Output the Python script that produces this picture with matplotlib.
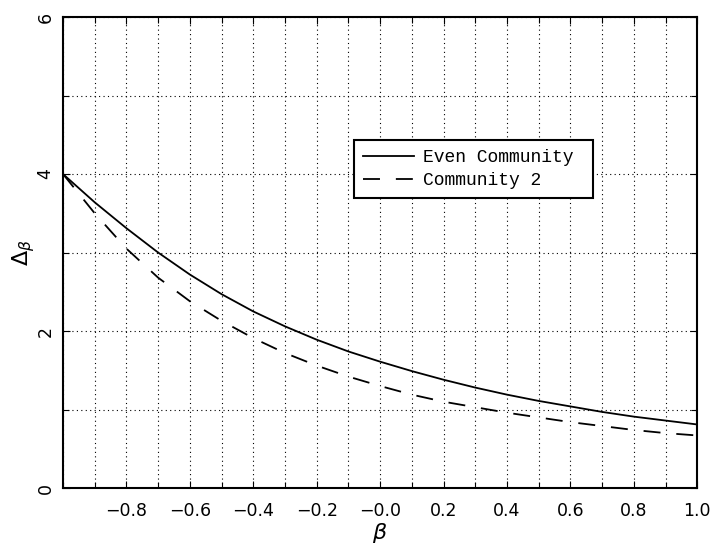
import matplotlib
matplotlib.use("Agg")
import matplotlib.pyplot as plt
import numpy as np

beta = [-1.0, -0.9, -0.8, -0.7, -0.6, -0.5, -0.4, -0.3, -0.2, -0.1, 0.0,
        0.1, 0.2, 0.3, 0.4, 0.5, 0.6, 0.7, 0.8, 0.9, 1.0]
even_community = [4.0, 3.64, 3.31, 3.00, 2.72, 2.47, 2.25, 2.06, 1.89, 1.74, 1.61,
                  1.49, 1.38, 1.28, 1.19, 1.11, 1.04, 0.97, 0.91, 0.86, 0.81]
community_2 = [4.0, 3.50, 3.05, 2.68, 2.38, 2.13, 1.91, 1.72, 1.56, 1.42, 1.30,
               1.19, 1.10, 1.03, 0.96, 0.90, 0.84, 0.79, 0.74, 0.70, 0.67]
xtick_vals = [-0.8, -0.6, -0.4, -0.2, 0.0, 0.2, 0.4, 0.6, 0.8, 1.0]
xtick_labels = ['\u22120.8', '\u22120.6', '\u22120.4', '\u22120.2', '\u22120.0',
                '0.2', '0.4', '0.6', '0.8', '1.0']
ytick_vals = [0, 2, 4, 6]
ytick_labels = ['0', '2', '4', '6']

fig = plt.figure(figsize=(7.24, 5.49), dpi=100)
ax = fig.add_axes([0.087, 0.111, 0.876, 0.858])

ax.plot(beta, even_community, color='black', lw=1.3, label='Even Community ')
ax.plot(beta, community_2, color='black', lw=1.3, dashes=(9.4, 8.8), label='Community 2')

ax.set_xlim(-1, 1)
ax.set_ylim(0, 6)
ax.set_xticks(np.arange(-1.0, 1.01, 0.1), minor=True)
ax.set_xticks(xtick_vals)
ax.set_xticklabels(xtick_labels, fontsize=12.5, family='DejaVu Sans')
ax.set_yticks(np.arange(0, 6.01, 1), minor=True)
ax.set_yticks(ytick_vals)
ax.set_yticklabels(ytick_labels, fontsize=12.5, rotation=90, va='center')
ax.tick_params(which='both', direction='in', top=True, right=True, length=5, width=0.8)
ax.tick_params(which='minor', length=4)
ax.tick_params(axis='x', which='both', pad=10)
ax.tick_params(axis='y', which='both', pad=6)
ax.grid(True, which='both', linestyle=(0, (1, 3)), color='black', lw=0.8)
for s in ax.spines.values():
    s.set_linewidth(1.5)

ax.set_xlabel(r'$\beta$', fontsize=16, labelpad=1)
ax.set_ylabel(r'$\Delta_\beta$', fontsize=16, labelpad=0)

leg = ax.legend(loc='upper left', bbox_to_anchor=(0.459, 0.739), borderaxespad=0,
                frameon=True, fancybox=False, edgecolor='black', framealpha=1,
                prop={'family': 'Liberation Mono', 'size': 13},
                handlelength=2.8, handletextpad=0.5, borderpad=0.5, labelspacing=0.35)
leg.get_frame().set_linewidth(1.5)

fig.savefig('out.png', dpi=100)
